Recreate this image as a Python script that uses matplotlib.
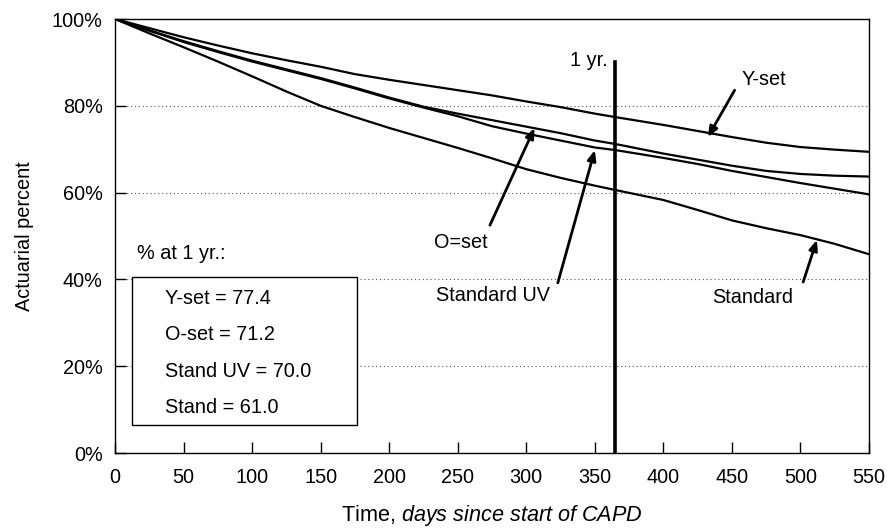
import matplotlib
matplotlib.use("Agg")
import matplotlib.pyplot as plt

plt.rcParams['font.family'] = ['Liberation Sans', 'DejaVu Sans']
plt.rcParams['mathtext.fontset'] = 'custom'
plt.rcParams['mathtext.it'] = 'Liberation Sans:italic'
plt.rcParams['mathtext.rm'] = 'Liberation Sans'

days = [0, 25, 50, 75, 100, 125, 150, 175, 200, 225, 250, 275, 300, 325, 350, 365,
        400, 425, 450, 475, 500, 525, 550]
y_set = [100, 97.9, 95.8, 93.9, 92.1, 90.5, 89.0, 87.3, 86.0, 84.8, 83.6, 82.4, 81.0,
         79.7, 78.2, 77.4, 75.6, 74.2, 72.8, 71.5, 70.5, 69.9, 69.4]
o_set = [100, 97.4, 94.9, 92.6, 90.4, 88.4, 86.4, 84.2, 81.9, 79.8, 78.2, 76.7, 75.2,
         73.7, 72.0, 71.2, 69.0, 67.6, 66.2, 65.0, 64.3, 63.9, 63.7]
standard_uv = [100, 97.3, 94.7, 92.4, 90.2, 88.2, 86.2, 84.0, 81.7, 79.6, 77.6, 75.3, 73.6,
               72.0, 70.4, 69.8, 68.0, 66.6, 65.0, 63.6, 62.2, 60.9, 59.6]
standard = [100, 96.7, 93.5, 90.2, 86.8, 83.3, 80.0, 77.4, 74.9, 72.6, 70.3, 67.9, 65.4,
            63.4, 61.6, 60.6, 58.3, 56.0, 53.6, 51.8, 50.2, 48.2, 45.8]

summary_labels = ["Y-set = 77.4", "O-set = 71.2", "Stand UV = 70.0", "Stand = 61.0"]
x_ticks = [0, 50, 100, 150, 200, 250, 300, 350, 400, 450, 500, 550]
y_ticks = [0, 20, 40, 60, 80, 100]

FS = 14.3

fig = plt.figure(figsize=(8.93, 5.28), dpi=100)
ax = fig.add_axes([0.1288, 0.142, 0.8443, 0.822])

for s in (y_set, o_set, standard_uv, standard):
    ax.plot(days, s, color='black', lw=1.6, solid_capstyle='round', solid_joinstyle='round')

ax.set_xlim(0, 550)
ax.set_ylim(0, 100)
ax.set_xticks(x_ticks)
ax.set_yticks(y_ticks)
ax.set_yticklabels([f"{t}%" for t in y_ticks])
ax.tick_params(axis='both', direction='in', length=8, width=1, labelsize=FS)
ax.tick_params(axis='x', pad=11)
ax.tick_params(axis='y', pad=9)
for t in [20, 40, 60, 80]:
    ax.axhline(t, color='#555555', lw=0.8, ls=(0, (1, 2.5)), zorder=0)
for sp in ax.spines.values():
    sp.set_linewidth(1.0)

# 1 yr line
ax.plot([365, 365], [0, 90], color='black', lw=2.6)
ax.text(359, 90.5, "1 yr.", ha='right', va='center', fontsize=FS)

arrow_kw = dict(arrowstyle='-|>,head_length=0.6,head_width=0.25', color='black', lw=2.0,
                shrinkA=0, shrinkB=0)
ax.text(473, 86.0, "Y-set", ha='center', va='center', fontsize=FS)
ax.annotate("", xy=(432.5, 72.8), xytext=(452, 83.6), arrowprops=arrow_kw)
ax.text(252, 48.4, "O=set", ha='center', va='center', fontsize=FS)
ax.annotate("", xy=(306, 74.9), xytext=(273.5, 52.5), arrowprops=arrow_kw)
ax.text(276, 36.2, "Standard UV", ha='center', va='center', fontsize=FS)
ax.annotate("", xy=(350, 69.8), xytext=(323, 39.2), arrowprops=arrow_kw)
ax.text(465, 35.9, "Standard", ha='center', va='center', fontsize=FS)
ax.annotate("", xy=(512, 49.1), xytext=(502, 39.4), arrowprops=arrow_kw)

ax.text(16, 46, "% at 1 yr.:", ha='left', va='center', fontsize=FS)
rect = plt.Rectangle((12.4, 6.5), 164, 34, fill=True, facecolor='white',
                     edgecolor='black', lw=1.0, zorder=3)
ax.add_patch(rect)
for lab, yy in zip(summary_labels, [35.7, 27.2, 18.7, 10.4]):
    ax.text(36.5, yy, lab, ha='left', va='center', fontsize=FS, zorder=4)

ax.set_ylabel("Actuarial percent", fontsize=FS, labelpad=13)
ax.set_xlabel(r"Time, $\it{days\ since\ start\ of\ CAPD}$", fontsize=15.6, labelpad=11)

fig.savefig("out.png", dpi=100)
